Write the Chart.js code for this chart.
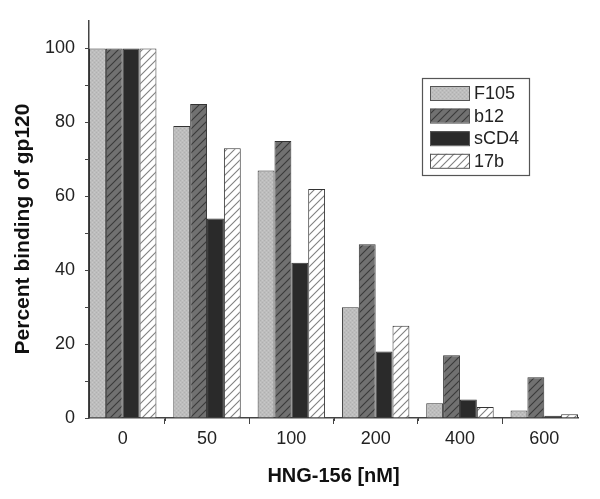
<!DOCTYPE html>
<html>
<head>
<meta charset="utf-8">
<script src="https://cdn.jsdelivr.net/npm/chart.js@4/dist/chart.umd.min.js"></script>
<style>
  html, body { margin: 0; padding: 0; background: #fff; }
  #wrap { width: 600px; height: 499px; }
</style>
</head>
<body>
<div id="wrap"><canvas id="chart" width="600" height="499"></canvas></div>
<script>
// valores
const doses = ['0', '50', '100', '200', '400', '600'];
const f105 = [100, 79, 67, 30, 4, 2];
const b12 = [100, 85, 75, 47, 17, 11];
const sCD4 = [100, 54, 42, 18, 5, 0.6];
const h17b = [100, 73, 62, 25, 3, 1];
const seriesNames = ['F105', 'b12', 'sCD4', '17b'];

const FONT = '"Liberation Sans", Arial, sans-serif';

// padroes de preenchimento (hachura)
function hatch(bg, line, step) {
    const c = document.createElement('canvas');
    c.width = step; c.height = step;
    const g = c.getContext('2d');
    g.fillStyle = bg;
    g.fillRect(0, 0, step, step);
    if (line) {
        g.strokeStyle = line;
        g.lineWidth = 1.1;
        g.beginPath();
        g.moveTo(0, step); g.lineTo(step, 0);
        g.moveTo(-step / 2, step / 2); g.lineTo(step / 2, -step / 2);
        g.moveTo(step / 2, step * 1.5); g.lineTo(step * 1.5, step / 2);
        g.stroke();
    }
    return g.createPattern(c, 'repeat');
}

function stipple() {
    const c = document.createElement('canvas');
    c.width = 4; c.height = 4;
    const g = c.getContext('2d');
    g.fillStyle = '#bdbdbd';
    g.fillRect(0, 0, 4, 4);
    g.fillStyle = '#b0b0b0';
    g.fillRect(0, 0, 1, 1);
    g.fillRect(2, 2, 1, 1);
    g.fillStyle = '#c8c8c8';
    g.fillRect(2, 0, 1, 1);
    g.fillRect(0, 2, 1, 1);
    return g.createPattern(c, 'repeat');
}

const fills = [
    stipple(),
    hatch('#717171', '#3a3a3a', 8),
    '#2a2a2a',
    hatch('#ffffff', '#808080', 8)
];

const toPoints = arr => arr.map((v, i) => ({ x: i, y: v }));

// legenda desenhada dentro da area do grafico
const legendBox = {
    id: 'legendBox',
    afterDraw(chart) {
        const ctx = chart.ctx;
        const x0 = 422, y0 = 78, w = 107, h = 97;
        ctx.save();
        ctx.fillStyle = '#fff';
        ctx.fillRect(x0, y0, w, h);
        ctx.strokeStyle = '#555';
        ctx.lineWidth = 1.2;
        ctx.strokeRect(x0 + 0.5, y0 + 0.5, w, h);
        ctx.font = '18px ' + FONT;
        ctx.textBaseline = 'middle';
        ctx.textAlign = 'left';
        chart.data.datasets.forEach((ds, i) => {
            const cy = 93 + i * 22.6;
            ctx.fillStyle = ds.backgroundColor;
            ctx.fillRect(430, cy - 7, 39, 14);
            ctx.strokeStyle = '#555';
            ctx.lineWidth = 1;
            ctx.strokeRect(430.5, cy - 6.5, 39, 14);
            ctx.fillStyle = '#222';
            ctx.fillText(ds.label, 474, cy + 1);
        });
        ctx.restore();
    }
};

// titulo do eixo y e marcas menores do eixo x
const extras = {
    id: 'extras',
    afterDraw(chart) {
        const ctx = chart.ctx;
        const xs = chart.scales.x;
        const area = chart.chartArea;
        ctx.save();
        ctx.strokeStyle = '#444';
        ctx.lineWidth = 1;
        for (let i = 0; i < doses.length - 1; i++) {
            const px = Math.round(xs.getPixelForValue(i + 0.5)) + 0.5;
            ctx.beginPath();
            ctx.moveTo(px, area.bottom);
            ctx.lineTo(px, area.bottom + 3);
            ctx.stroke();
        }
        ctx.translate(23, 229);
        ctx.rotate(-Math.PI / 2);
        ctx.font = 'bold 21px ' + FONT;
        ctx.fillStyle = '#111';
        ctx.textAlign = 'center';
        ctx.textBaseline = 'middle';
        ctx.fillText('Percent binding of gp120', 0, 0);
        ctx.restore();
    }
};

new Chart(document.getElementById('chart'), {
    type: 'bar',
    data: {
        datasets: [f105, b12, sCD4, h17b].map((vals, i) => ({
            label: seriesNames[i],
            data: toPoints(vals),
            backgroundColor: fills[i],
            borderColor: '#333',
            borderWidth: 1,
            categoryPercentage: 0.8,
            barPercentage: 1.0
        }))
    },
    options: {
        responsive: false,
        animation: false,
        layout: { padding: { top: 15, right: 22, left: 0, bottom: 0 } },
        plugins: {
            legend: { display: false },
            tooltip: { enabled: false }
        },
        scales: {
            x: {
                type: 'linear',
                min: -0.4,
                max: 5.4,
                offset: false,
                afterFit(scale) { scale.height = 81; },
                afterBuildTicks(scale) {
                    scale.ticks = doses.map((d, i) => ({ value: i }));
                },
                grid: {
                    drawOnChartArea: false,
                    drawTicks: true,
                    tickLength: 6,
                    tickColor: '#444'
                },
                border: { color: '#444', width: 1.5 },
                ticks: {
                    autoSkip: false,
                    padding: 4,
                    color: '#222',
                    font: { family: FONT, size: 18 },
                    callback: v => doses[v]
                },
                title: {
                    display: true,
                    text: 'HNG-156 [nM]',
                    color: '#111',
                    font: { family: FONT, size: 20, weight: 'bold' },
                    padding: { top: 0, bottom: 11 }
                }
            },
            y: {
                min: 0,
                max: 107.5,
                afterFit(scale) { scale.width = 89; },
                grid: {
                    drawOnChartArea: false,
                    drawTicks: true,
                    tickLength: 4,
                    tickColor: '#444'
                },
                border: { color: '#444', width: 1.5 },
                ticks: {
                    stepSize: 10,
                    includeBounds: false,
                    autoSkip: false,
                    padding: 10,
                    color: '#222',
                    font: { family: FONT, size: 18 },
                    callback: v => (v % 20 === 0 ? v : '')
                }
            }
        }
    },
    plugins: [legendBox, extras]
});
</script>
</body>
</html>
